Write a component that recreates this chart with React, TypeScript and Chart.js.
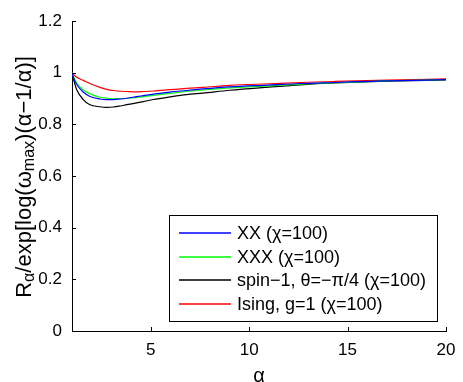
import React, { useEffect, useRef } from 'react';
import { Chart, registerables } from 'chart.js';

Chart.register(...registerables);

// ---- data ----
const alpha = [1, 1.1, 1.24, 1.57, 1.91, 2.42, 2.76, 3.1, 3.44, 3.78, 4.28, 4.62, 5.13, 5.97, 6.82, 7.65, 9.02, 11, 12.6, 14.35, 17, 20];
const xxValues = [1, 0.976, 0.954, 0.925, 0.908, 0.898, 0.896, 0.896, 0.898, 0.901, 0.907, 0.911, 0.917, 0.925, 0.931, 0.937, 0.945, 0.952, 0.958, 0.962, 0.968, 0.973];
const xxxValues = [1, 0.98, 0.96, 0.934, 0.918, 0.905, 0.901, 0.899, 0.899, 0.9, 0.904, 0.907, 0.912, 0.92, 0.927, 0.933, 0.941, 0.949, 0.956, 0.961, 0.968, 0.973];
const spin1Values = [1, 0.968, 0.934, 0.896, 0.876, 0.868, 0.866, 0.867, 0.871, 0.876, 0.883, 0.888, 0.896, 0.906, 0.915, 0.921, 0.932, 0.944, 0.953, 0.96, 0.967, 0.972];
const isingValues = [1, 0.991, 0.982, 0.97, 0.958, 0.943, 0.935, 0.931, 0.928, 0.927, 0.926, 0.927, 0.929, 0.934, 0.939, 0.943, 0.951, 0.957, 0.962, 0.966, 0.971, 0.976];

const seriesLabels = ['XX (χ=100)', 'XXX (χ=100)', 'spin−1, θ=−π/4 (χ=100)', 'Ising, g=1 (χ=100)'];
const seriesColors = ['#0000ff', '#00ff00', '#000000', '#ff0000'];

const xTicks = [5, 10, 15, 20];
const yTicks = [0, 0.2, 0.4, 0.6, 0.8, 1, 1.2];
const yTickLabels = ['0', '0.2', '0.4', '0.6', '0.8', '1', '1.2'];
const xTitle = 'α';
// [text, isSubscript]
const yTitleParts: [string, boolean][] = [
  ['R', false],
  ['α', true],
  ['/exp[log(ω', false],
  ['max', true],
  [')(α−1/α)]', false],
];

const FONT = "'Liberation Sans', Arial, Helvetica, sans-serif";

const overlayPlugin = {
  id: 'overlay',
  afterDraw(chart: any) {
    const { ctx, chartArea, scales } = chart;
    const xs = scales.x;
    const ys = scales.y;
    ctx.save();
    ctx.strokeStyle = '#000';
    ctx.lineWidth = 1;
    // inward ticks
    ctx.beginPath();
    for (const v of xTicks) {
      const px = Math.round(xs.getPixelForValue(v)) + 0.5;
      ctx.moveTo(px, chartArea.bottom);
      ctx.lineTo(px, chartArea.bottom - 4);
    }
    for (const v of yTicks) {
      const py = Math.round(ys.getPixelForValue(v)) + 0.5;
      ctx.moveTo(chartArea.left, py);
      ctx.lineTo(chartArea.left + 4, py);
    }
    ctx.stroke();

    // x title
    ctx.fillStyle = '#000';
    ctx.font = `20px ${FONT}`;
    ctx.textAlign = 'center';
    ctx.textBaseline = 'middle';
    ctx.fillText(xTitle, (chartArea.left + chartArea.right) / 2, chartArea.bottom + 45);

    // y title with subscripts
    const mainSize = 22;
    const subSize = 16;
    let total = 0;
    const widths: number[] = [];
    for (const [t, sub] of yTitleParts) {
      ctx.font = `${sub ? subSize : mainSize}px ${FONT}`;
      const w = ctx.measureText(t).width;
      widths.push(w);
      total += w;
    }
    ctx.save();
    ctx.translate(25, (chartArea.top + chartArea.bottom) / 2 + 1);
    ctx.rotate(-Math.PI / 2);
    ctx.textAlign = 'left';
    ctx.textBaseline = 'alphabetic';
    let cx = -total / 2;
    yTitleParts.forEach(([t, sub], i) => {
      ctx.font = `${sub ? subSize : mainSize}px ${FONT}`;
      ctx.fillText(t, cx, sub ? 9 : 6);
      cx += widths[i];
    });
    ctx.restore();

    // legend box
    const right = chartArea.right - 9;
    const bottom = chartArea.bottom - 10;
    const left = right - 268;
    const top = bottom - 106;
    ctx.fillStyle = '#fff';
    ctx.fillRect(left, top, right - left, bottom - top);
    ctx.strokeStyle = '#000';
    ctx.lineWidth = 1;
    ctx.strokeRect(Math.round(left) + 0.5, Math.round(top) + 0.5, Math.round(right - left), Math.round(bottom - top));
    ctx.font = `18px ${FONT}`;
    ctx.textAlign = 'left';
    ctx.textBaseline = 'middle';
    seriesLabels.forEach((label, i) => {
      const ry = Math.round(top + 18 + i * 23.7);
      ctx.strokeStyle = seriesColors[i];
      ctx.lineWidth = 1.4;
      ctx.beginPath();
      ctx.moveTo(left + 10, ry);
      ctx.lineTo(left + 62, ry);
      ctx.stroke();
      ctx.fillStyle = '#000';
      ctx.fillText(label, left + 68, ry + 1);
    });
    ctx.restore();
  },
};

export default function App() {
  const ref = useRef<HTMLCanvasElement | null>(null);
  useEffect(() => {
    document.body.style.margin = '0';
    const canvas = ref.current;
    if (!canvas) return;
    const seriesValues = [xxValues, xxxValues, spin1Values, isingValues];
    const chart = new Chart(canvas, {
      type: 'line',
      data: {
        datasets: seriesValues.map((vals, i) => ({
          label: seriesLabels[i],
          data: alpha.map((a, j) => ({ x: a, y: vals[j] })),
          borderColor: seriesColors[i],
          backgroundColor: seriesColors[i],
          borderWidth: 1.2,
          pointRadius: 0,
          fill: false,
          cubicInterpolationMode: 'monotone' as const,
        })),
      },
      options: {
        responsive: false,
        animation: false,
        events: [],
        layout: { padding: { left: 0, right: 17, top: 21, bottom: 0 } },
        plugins: { legend: { display: false }, tooltip: { enabled: false }, title: { display: false } },
        scales: {
          x: {
            type: 'linear',
            min: 1,
            max: 20,
            grid: { display: false, drawTicks: false },
            border: { display: true, color: '#000', width: 1 },
            ticks: { color: '#000', font: { family: FONT, size: 17 }, padding: 9, maxRotation: 0 },
            afterBuildTicks: (s: any) => { s.ticks = xTicks.map((v) => ({ value: v })); },
            afterFit: (s: any) => { s.height = 51; s.paddingLeft = 0; s.paddingRight = 0; },
          },
          y: {
            type: 'linear',
            min: 0,
            max: 1.2,
            grid: { display: false, drawTicks: false },
            border: { display: true, color: '#000', width: 1 },
            ticks: {
              color: '#000',
              font: { family: FONT, size: 17 },
              padding: 10,
              callback: (v: any) => {
                const idx = yTicks.findIndex((t) => Math.abs(t - Number(v)) < 1e-6);
                return idx >= 0 ? yTickLabels[idx] : '';
              },
            },
            afterBuildTicks: (s: any) => { s.ticks = yTicks.map((v) => ({ value: v })); },
            afterFit: (s: any) => { s.width = 72; s.paddingTop = 0; s.paddingBottom = 0; },
          },
        },
      },
      plugins: [overlayPlugin],
    });
    return () => chart.destroy();
  }, []);
  return <canvas ref={ref} width={463} height={382} style={{ display: 'block', width: 463, height: 382 }} />;
}
